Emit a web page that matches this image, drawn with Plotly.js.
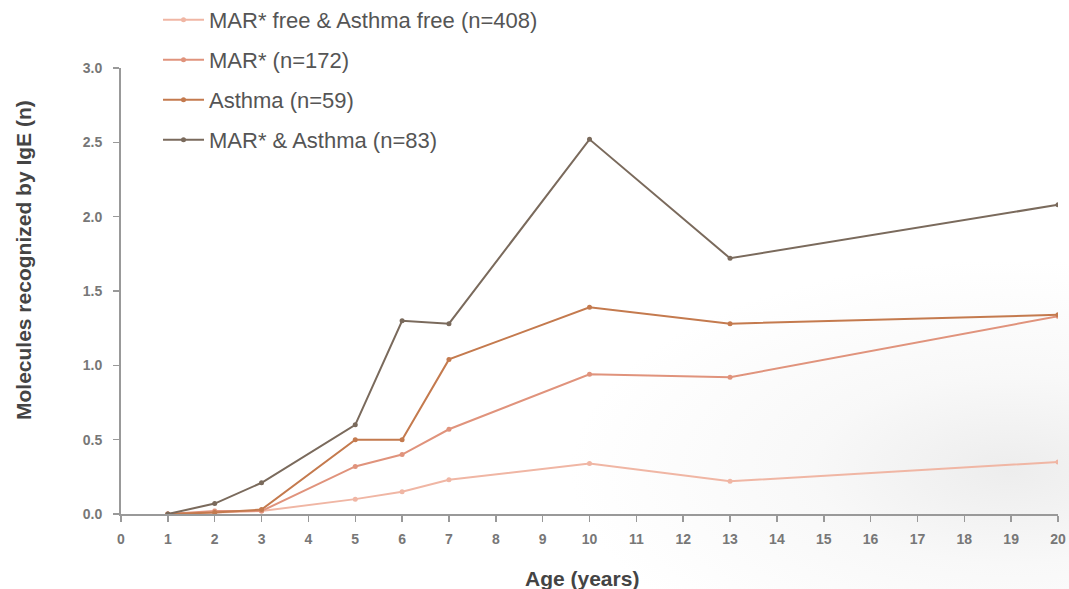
<!DOCTYPE html>
<html><head><meta charset="utf-8">
<script src="https://cdn.plot.ly/plotly-3.0.1.min.js"></script>
<style>
html,body{margin:0;padding:0;background:#fff}
#chart{width:1069px;height:589px;
background:radial-gradient(ellipse 440px 210px at 1010px 470px, rgba(225,225,225,0.6) 0%, rgba(238,238,238,0.4) 45%, rgba(255,255,255,0) 100%), #fff;}
</style>
</head><body><div id="chart"></div>
<script>
const ages = [1, 2, 3, 5, 6, 7, 10, 13, 20];
const seriesNames = ["MAR* free & Asthma free (n=408)", "MAR* (n=172)", "Asthma (n=59)", "MAR* & Asthma (n=83)"];
const freeVals = [0, 0.01, 0.02, 0.10, 0.15, 0.23, 0.34, 0.22, 0.35];
const marVals = [0, 0.02, 0.02, 0.32, 0.40, 0.57, 0.94, 0.92, 1.33];
const asthmaVals = [0, 0.01, 0.03, 0.50, 0.50, 1.04, 1.39, 1.28, 1.34];
const bothVals = [0, 0.07, 0.21, 0.60, 1.30, 1.28, 2.52, 1.72, 2.08];
const xTicks = [0,1,2,3,4,5,6,7,8,9,10,11,12,13,14,15,16,17,18,19,20];
const yTicks = [0, 0.5, 1.0, 1.5, 2.0, 2.5, 3.0];
const xTitle = "Age (years)";
const yTitle = "Molecules recognized by IgE (n)";
const colors = ["#f0b6a4", "#e0937c", "#c47a4e", "#7a6a5c"];
const allVals = [freeVals, marVals, asthmaVals, bothVals];
const legendIds = ["legend", "legend2", "legend3", "legend4"];

const traces = allVals.map((v, i) => ({
  x: ages, y: v, name: seriesNames[i], type: "scatter", mode: "lines+markers",
  line: {color: colors[i], width: 2},
  marker: {color: colors[i], size: 5},
  legend: legendIds[i], showlegend: true
}));

const legendBase = (yPx) => ({
  x: 0.0395, xanchor: "left", y: 1 + (68 - yPx) / 446, yanchor: "middle",
  bgcolor: "rgba(0,0,0,0)", font: {family: "Liberation Sans, Arial, sans-serif", size: 22, color: "#555"},
  itemwidth: 41
});

const axisFont = {family: "Liberation Sans, Arial, sans-serif", size: 14, color: "#777", weight: "bold"};

const layout = {
  width: 1069, height: 589,
  margin: {l: 121, r: 11, t: 68, b: 75, autoexpand: false},
  paper_bgcolor: "rgba(0,0,0,0)", plot_bgcolor: "rgba(0,0,0,0)",
  font: {family: "Liberation Sans, Arial, sans-serif", color: "#555"},
  xaxis: {
    range: [0, 20], tickvals: xTicks, ticktext: xTicks.map(String),
    showgrid: false, zeroline: false, showline: true, linecolor: "#999", linewidth: 2,
    ticks: "outside", ticklen: 6, tickcolor: "#999", tickwidth: 1.5, ticklabelstandoff: 5,
    tickfont: axisFont
  },
  yaxis: {
    range: [0, 3], tickvals: yTicks, ticktext: yTicks.map(v => v.toFixed(1)),
    showgrid: false, zeroline: false, showline: true, linecolor: "#999", linewidth: 2,
    ticks: "outside", ticklen: 6, tickcolor: "#999", tickwidth: 1.5, ticklabelstandoff: 8,
    tickfont: axisFont
  },
  annotations: [
    {text: "<b>" + xTitle + "</b>", xref: "paper", yref: "paper", x: (582 - 121) / 937, y: -(578 - 514) / 446,
     xanchor: "center", yanchor: "middle", showarrow: false, font: {size: 21, color: "#444"}},
    {text: "<b>" + yTitle + "</b>", xref: "paper", yref: "paper", x: -(121 - 23) / 937, y: (514 - 260) / 446,
     xanchor: "center", yanchor: "middle", textangle: -90, showarrow: false, font: {size: 21, color: "#444"}}
  ],
  legend: legendBase(20),
  legend2: legendBase(60),
  legend3: legendBase(100),
  legend4: legendBase(140)
};

Plotly.newPlot("chart", traces, layout, {displayModeBar: false, staticPlot: true});
</script>
</body></html>
